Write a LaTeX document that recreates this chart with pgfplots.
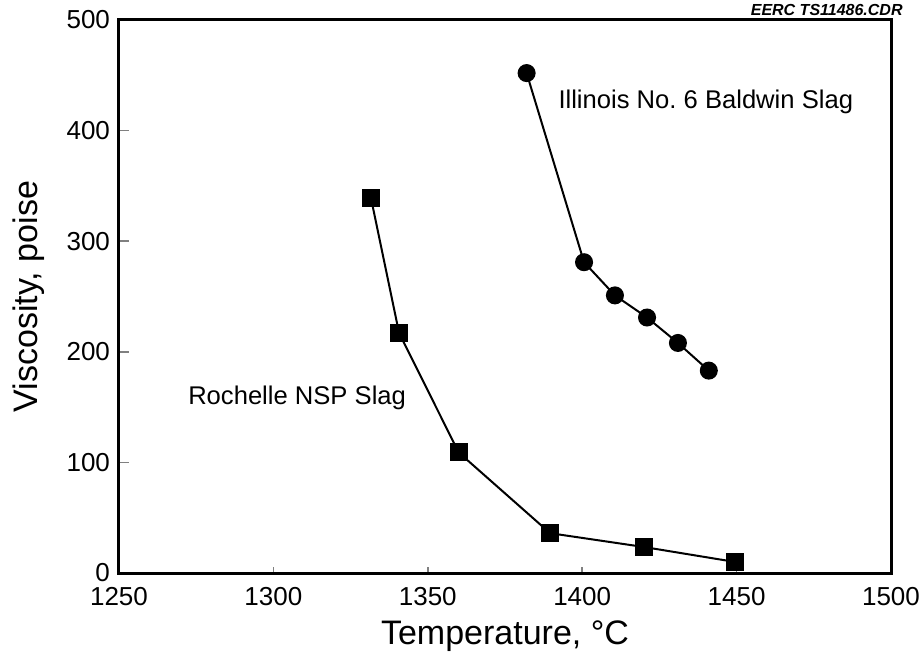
\documentclass[border=0pt]{standalone}
\usepackage{pgfplots}
\pgfplotsset{compat=1.18}
\usepackage{fontspec}
\setmainfont{Liberation Sans}
\begin{document}
\begin{tikzpicture}
\begin{axis}[
    scale only axis,
    width=386pt, height=276.5pt,
    xmin=1250, xmax=1500, ymin=0, ymax=500,
    xtick={1250,1300,...,1500},
    ytick={0,100,...,500},
    axis line style={line width=1.5pt},
    tick align=inside,
    xtick pos=bottom, ytick pos=left,
    xtick style={line width=0.8pt, /pgfplots/major tick length=3pt},
    ytick style={line width=0.8pt, /pgfplots/major tick length=5pt},
    ticklabel style={font=\fontsize{13}{15}\selectfont},
    yticklabel style={xshift=-1pt},
    xticklabel style={yshift=-3.5pt},
    /pgf/number format/assume math mode=true,
    /pgf/number format/1000 sep={},
    xlabel={Temperature, °C},
    ylabel={Viscosity, poise},
    label style={font=\fontsize{17}{20}\selectfont},
    xlabel style={yshift=-1pt},
    ylabel style={yshift=4pt},
    clip=false,
]
\addplot[black, line width=1pt, mark=*, mark size=4pt] coordinates {
    (1382,452) (1400.6,281) (1410.6,251) (1421,231) (1431,208) (1441,183)
};
\addplot[black, line width=1pt, mark=square*, mark size=4pt] coordinates {
    (1331.6,339) (1340.7,217) (1360,109) (1389.6,36) (1420,23.5) (1449.5,10)
};
\node[anchor=west, inner sep=0pt, font=\fontsize{12.8}{15}\selectfont] at (axis cs:1392.2,426) {Illinois No.\ 6 Baldwin Slag};
\node[anchor=west, inner sep=0pt, font=\fontsize{12.8}{15}\selectfont] at (axis cs:1272.3,158) {Rochelle NSP Slag};
\node[anchor=base east, inner sep=0pt, font=\fontsize{8}{9}\selectfont\bfseries\itshape]
    at ([xshift=6pt,yshift=2pt]rel axis cs:1,1) {EERC TS11486.CDR};
\end{axis}
\pgfresetboundingbox
\path (-59.5pt,-45.5pt) rectangle (400.5pt,286.5pt);
\end{tikzpicture}
\end{document}
